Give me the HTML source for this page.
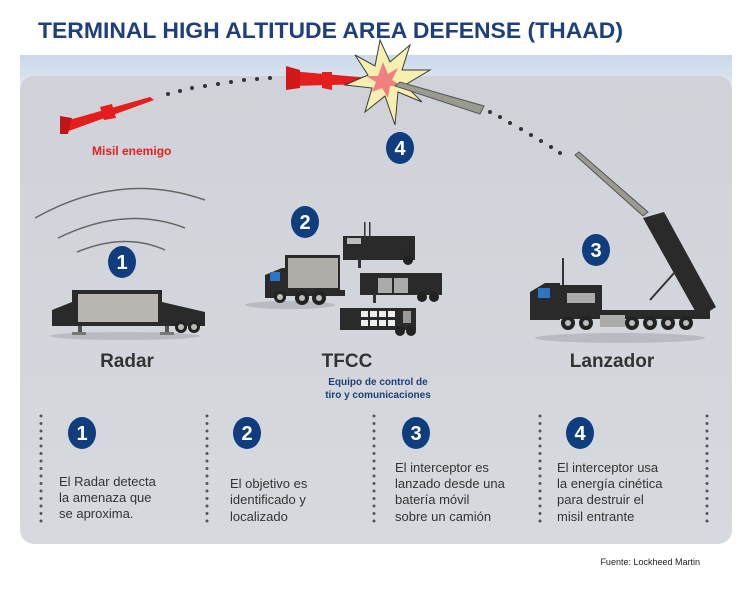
<!DOCTYPE html>
<html><head><meta charset="utf-8"><style>
html,body{margin:0;padding:0;background:#fff;}
svg{display:block;}
text{font-family:"Liberation Sans",sans-serif;}
</style></head><body>
<svg width="750" height="591" viewBox="0 0 750 591" xmlns="http://www.w3.org/2000/svg">
<defs>
<linearGradient id="sky" x1="0" y1="0" x2="0" y2="1"><stop offset="0" stop-color="#c9d8ea"/><stop offset="1" stop-color="#e4ebf3"/></linearGradient>
<linearGradient id="pan" x1="0" y1="0" x2="0" y2="1"><stop offset="0" stop-color="#cfd2d8"/><stop offset="1" stop-color="#d6d9de"/></linearGradient>
</defs>
<rect width="750" height="591" fill="#fff"/>
<text x="38" y="38" font-size="22" font-weight="bold" fill="#1d3f7a" textLength="585" lengthAdjust="spacingAndGlyphs">TERMINAL HIGH ALTITUDE AREA DEFENSE (THAAD)</text>
<rect x="20" y="55" width="712" height="40" fill="url(#sky)"/>
<rect x="20" y="76" width="712" height="468" rx="14" fill="url(#pan)"/>
<g fill="#333">
<circle cx="168" cy="94" r="2"/><circle cx="180" cy="91" r="2"/><circle cx="192" cy="88" r="2"/><circle cx="205" cy="86" r="2"/><circle cx="218" cy="84" r="2"/><circle cx="231" cy="82" r="2"/><circle cx="244" cy="80" r="2"/><circle cx="257" cy="79" r="2"/><circle cx="270" cy="78" r="2"/>
<circle cx="490" cy="112" r="2"/><circle cx="500" cy="117" r="2"/><circle cx="510" cy="123" r="2"/><circle cx="521" cy="129" r="2"/><circle cx="531" cy="135" r="2"/><circle cx="541" cy="141" r="2"/><circle cx="551" cy="147" r="2"/><circle cx="560" cy="153" r="2"/>
</g>
<polygon points="62,122 150,97 154,100 66,132 60,132" fill="#e41d1d"/>
<polygon points="60,116 72,118 68,134 60,134" fill="#c21414"/>
<polygon points="100,107 112,104 116,118 104,120" fill="#e41d1d"/>
<polygon points="290,71 370,78 370,84 290,86" fill="#e41d1d"/>
<polygon points="286,66 300,70 300,88 286,90" fill="#d01818"/>
<polygon points="322,72 332,72 332,90 322,88" fill="#e41d1d"/>
<polygon points="380,40 390,62 410,45 402,70 430,70 405,85 422,102 398,92 395,125 385,96 365,112 372,88 345,85 368,75 355,55 375,66" fill="#f5f0b0" stroke="#3a3a3a" stroke-width="1"/>
<polygon points="383,62 388,74 398,68 392,80 402,86 390,86 388,98 382,88 372,92 376,82 366,76 378,76" fill="#f08080"/>
<polygon points="395,86 400,82 484,106 480,114" fill="#9a9a90" stroke="#555" stroke-width="1"/>
<polygon points="575,155 579,152 648,212 643,216" fill="#9a9a90" stroke="#555" stroke-width="1"/>
<text x="92" y="155" font-size="12" font-weight="bold" fill="#e41d1d">Misil enemigo</text>
<g fill="none" stroke="#666" stroke-width="1.5">
<path d="M35,218 Q120,170 205,200"/><path d="M58,238 Q125,205 185,228"/><path d="M77,252 Q125,232 165,250"/>
</g>
<ellipse cx="125" cy="336" rx="75" ry="4" fill="#b8bcc2"/>
<polygon points="52,310 72,302 72,290 162,290 162,302 205,312 205,326 52,326" fill="#2a2a2a"/>
<rect x="78" y="294" width="80" height="28" fill="#b8b6b0"/>
<rect x="78" y="326" width="4" height="8" fill="#555"/><rect x="72" y="332" width="14" height="3" fill="#777"/>
<rect x="165" y="326" width="4" height="8" fill="#555"/><rect x="160" y="332" width="14" height="3" fill="#777"/>
<circle cx="181" cy="327" r="6" fill="#222"/><circle cx="181" cy="327" r="3" fill="#bbb"/>
<circle cx="194" cy="327" r="6" fill="#222"/><circle cx="194" cy="327" r="3" fill="#bbb"/>
<ellipse cx="290" cy="305" rx="45" ry="4" fill="#b8bcc2"/>
<rect x="285" y="255" width="55" height="37" fill="#2a2a2a"/><rect x="288" y="258" width="50" height="30" fill="#b0aea8"/>
<polygon points="265,275 282,268 286,268 286,298 265,298" fill="#2a2a2a"/><rect x="270" y="272" width="10" height="9" fill="#2b74c8"/>
<rect x="265" y="290" width="80" height="6" fill="#2a2a2a"/>
<circle cx="280" cy="297" r="6" fill="#222"/><circle cx="302" cy="298" r="7" fill="#222"/><circle cx="319" cy="298" r="7" fill="#222"/>
<circle cx="302" cy="298" r="3" fill="#bbb"/><circle cx="319" cy="298" r="3" fill="#bbb"/><circle cx="280" cy="297" r="3" fill="#bbb"/>
<rect x="343" y="236" width="72" height="24" fill="#2a2a2a"/><rect x="347" y="238" width="14" height="6" fill="#bbb"/>
<rect x="364" y="222" width="1.5" height="18" fill="#333"/><rect x="369" y="222" width="1.5" height="18" fill="#333"/>
<circle cx="408" cy="260" r="5" fill="#222"/><rect x="358" y="258" width="3" height="10" fill="#333"/>
<rect x="360" y="273" width="82" height="22" fill="#2a2a2a"/><rect x="378" y="278" width="14" height="15" fill="#aaa"/><rect x="394" y="278" width="14" height="15" fill="#aaa"/>
<circle cx="422" cy="297" r="5" fill="#222"/><circle cx="434" cy="297" r="5" fill="#222"/><rect x="373" y="293" width="3" height="10" fill="#333"/>
<rect x="340" y="308" width="76" height="22" fill="#2a2a2a"/>
<g fill="#eee"><rect x="361" y="311" width="7" height="6"/><rect x="370" y="311" width="7" height="6"/><rect x="379" y="311" width="7" height="6"/><rect x="388" y="311" width="7" height="6"/><rect x="361" y="320" width="7" height="6"/><rect x="370" y="320" width="7" height="6"/><rect x="379" y="320" width="7" height="6"/><rect x="388" y="320" width="7" height="6"/></g>
<rect x="403" y="311" width="8" height="12" fill="#999"/>
<circle cx="400" cy="331" r="5" fill="#222"/><circle cx="411" cy="331" r="5" fill="#222"/>
<ellipse cx="620" cy="338" rx="85" ry="5" fill="#b8bcc2"/>
<polygon points="643,218 664,212 716,307 699,318" fill="#2a2a2a"/>
<line x1="650" y1="300" x2="675" y2="272" stroke="#333" stroke-width="2"/>
<polygon points="530,292 545,283 560,283 560,320 530,320" fill="#2a2a2a"/><rect x="538" y="288" width="12" height="10" fill="#2b74c8"/>
<rect x="560" y="285" width="42" height="28" fill="#2a2a2a"/><rect x="567" y="293" width="28" height="10" fill="#aaa"/>
<rect x="562" y="258" width="2" height="28" fill="#333"/>
<rect x="530" y="310" width="180" height="9" fill="#2a2a2a"/><rect x="600" y="315" width="25" height="12" fill="#aaa"/>
<g fill="#222"><circle cx="568" cy="323" r="7"/><circle cx="586" cy="323" r="7"/><circle cx="632" cy="323" r="7"/><circle cx="650" cy="323" r="7"/><circle cx="668" cy="323" r="7"/><circle cx="686" cy="323" r="7"/></g>
<g fill="#bbb"><circle cx="568" cy="323" r="3"/><circle cx="586" cy="323" r="3"/><circle cx="632" cy="323" r="3"/><circle cx="650" cy="323" r="3"/><circle cx="668" cy="323" r="3"/><circle cx="686" cy="323" r="3"/></g>
<g font-size="20" font-weight="bold" fill="#fff" text-anchor="middle">
<ellipse cx="400" cy="148" rx="14" ry="16" fill="#0f3d7e"/><text x="400" y="155">4</text>
<ellipse cx="122" cy="262" rx="14" ry="16" fill="#0f3d7e"/><text x="122" y="269">1</text>
<ellipse cx="305" cy="222" rx="14" ry="16" fill="#0f3d7e"/><text x="305" y="229">2</text>
<ellipse cx="596" cy="250" rx="14" ry="16" fill="#0f3d7e"/><text x="596" y="257">3</text>
<ellipse cx="82" cy="433" rx="14" ry="16" fill="#0f3d7e"/><text x="82" y="440">1</text>
<ellipse cx="247" cy="433" rx="14" ry="16" fill="#0f3d7e"/><text x="247" y="440">2</text>
<ellipse cx="416" cy="433" rx="14" ry="16" fill="#0f3d7e"/><text x="416" y="440">3</text>
<ellipse cx="580" cy="433" rx="14" ry="16" fill="#0f3d7e"/><text x="580" y="440">4</text>
</g>
<g font-size="19" font-weight="bold" fill="#333" text-anchor="middle">
<text x="127" y="367">Radar</text><text x="347" y="367">TFCC</text><text x="612" y="367">Lanzador</text>
</g>
<g font-size="10" font-weight="bold" fill="#1d3f7a" text-anchor="middle">
<text x="378" y="385">Equipo de control de</text><text x="378" y="398">tiro y comunicaciones</text>
</g>
<g stroke="#555" stroke-width="3" stroke-linecap="round" stroke-dasharray="0 7.5">
<line x1="41" y1="416" x2="41" y2="525"/><line x1="207" y1="416" x2="207" y2="525"/><line x1="374" y1="416" x2="374" y2="525"/><line x1="540" y1="416" x2="540" y2="525"/><line x1="707" y1="416" x2="707" y2="525"/>
</g>
<g font-size="13" fill="#333">
<text x="59" y="486">El Radar detecta</text><text x="59" y="502">la amenaza que</text><text x="59" y="518">se aproxima.</text>
<text x="230" y="488">El objetivo es</text><text x="230" y="504">identificado y</text><text x="230" y="521">localizado</text>
<text x="395" y="472">El interceptor es</text><text x="395" y="488">lanzado desde una</text><text x="395" y="504">batería móvil</text><text x="395" y="521">sobre un camión</text>
<text x="557" y="472">El interceptor usa</text><text x="557" y="488">la energía cinética</text><text x="557" y="504">para destruir el</text><text x="557" y="521">misil entrante</text>
</g>
<text x="700" y="565" font-size="9" fill="#222" text-anchor="end">Fuente: Lockheed Martin</text>
</svg>
</body></html>
